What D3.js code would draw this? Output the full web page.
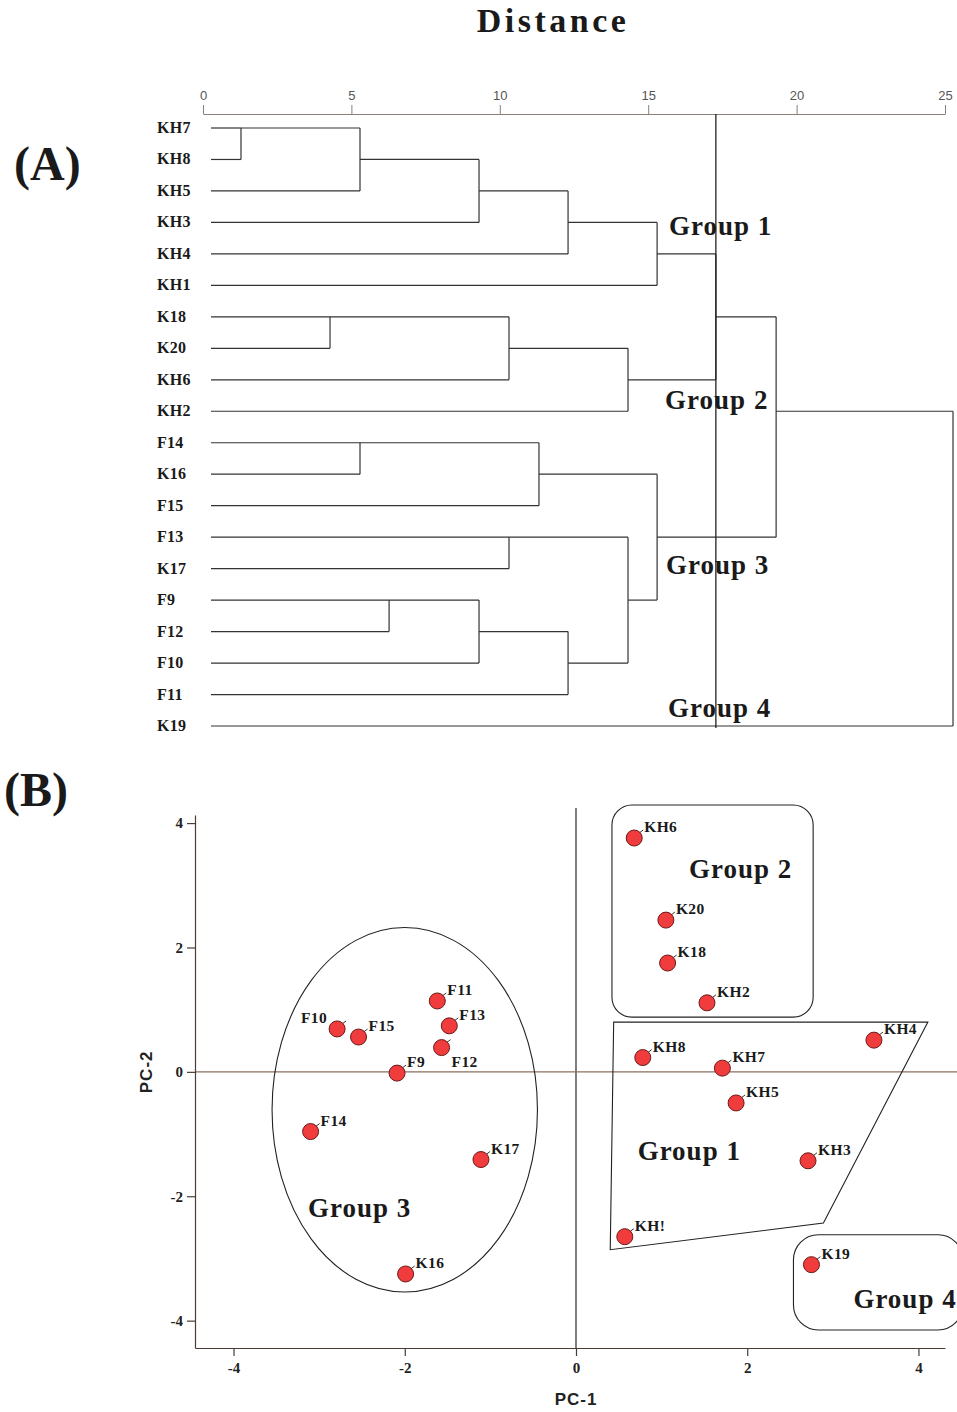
<!DOCTYPE html>
<html>
<head>
<meta charset="utf-8">
<script src="https://cdn.jsdelivr.net/npm/d3@7/dist/d3.min.js"></script>
<style>
body { margin: 0; background: #fff; }
svg { display: block; }
</style>
</head>
<body>
<svg id="mainSvg" width="957" height="1412"></svg>
<script>
// (A) dendrogram: leaf order top to bottom
var leafNames = ["KH7", "KH8", "KH5", "KH3", "KH4", "KH1", "K18", "K20", "KH6", "KH2",
	"F14", "K16", "F15", "F13", "K17", "F9", "F12", "F10", "F11", "K19"];
// [child a, child b, rescaled distance]; "mN" = result of merge N
var merges = [
	["KH7", "KH8", 1.28],
	["m0", "KH5", 5.29],
	["m1", "KH3", 9.30],
	["m2", "KH4", 12.30],
	["m3", "KH1", 15.30],
	["K18", "K20", 4.28],
	["m5", "KH6", 10.31],
	["m6", "KH2", 14.32],
	["m4", "m7", 17.28],
	["F14", "K16", 5.29],
	["m9", "F15", 11.32],
	["F13", "K17", 10.31],
	["F9", "F12", 6.27],
	["m12", "F10", 9.30],
	["m13", "F11", 12.30],
	["m11", "m14", 14.32],
	["m10", "m15", 15.30],
	["m8", "m16", 19.31],
	["m17", "K19", 25.27]
];
var distTicks = [0, 5, 10, 15, 20, 25];
var cutDistance = 17.28;
var groupNames = ["Group 1", "Group 2", "Group 3", "Group 4"];

// (B) PCA scatter
var pointNames = ["KH6", "K20", "K18", "KH2", "KH8", "KH7", "KH4", "KH5", "KH3", "KH!", "K19",
	"F10", "F15", "F9", "F11", "F13", "F12", "F14", "K17", "K16"];
var pc1 = [0.68, 1.05, 1.07, 1.53, 0.78, 1.71, 3.48, 1.87, 2.71, 0.57, 2.75,
	-2.79, -2.54, -2.09, -1.62, -1.48, -1.57, -3.10, -1.11, -1.99];
var pc2 = [3.76, 2.44, 1.75, 1.11, 0.23, 0.06, 0.51, -0.50, -1.43, -2.65, -3.10,
	0.69, 0.56, -0.02, 1.14, 0.74, 0.39, -0.96, -1.41, -3.25];
var pcTicks = [-4, -2, 0, 2, 4];

var serif = "'Liberation Serif', 'Times New Roman', serif";
var sans = "'Liberation Sans', Arial, sans-serif";
var lineCol = "#333";

var mainSvg = d3.select("#mainSvg");

// ---------- (A) ----------
var dx = d3.scaleLinear().domain([0, 25]).range([203, 945]);
var dy = d3.scaleLinear().domain([0, leafNames.length - 1]).range([128, 726]);
var leafStart = dx(0) + 8;

mainSvg.append("text").attr("x", 553).attr("y", 32).attr("text-anchor", "middle")
	.attr("font-family", serif).attr("font-weight", "bold").attr("font-size", "34px").attr("letter-spacing", "3.5px")
	.attr("fill", "#1a1a1a").text("Distance");
mainSvg.append("text").attr("x", 14).attr("y", 180)
	.attr("font-family", serif).attr("font-weight", "bold").attr("font-size", "48px").attr("fill", "#1a1a1a").text("(A)");

var topAxis = mainSvg.append("g").attr("transform", "translate(0,114)")
	.call(d3.axisTop(dx).tickValues(distTicks).tickSize(9).tickSizeOuter(0).tickPadding(5));
topAxis.selectAll("path,line").attr("stroke", "#8a8079");
topAxis.selectAll("text").attr("font-family", sans).attr("font-size", "13px").attr("fill", "#555");

mainSvg.selectAll(".leafLabel").data(leafNames).enter().append("text").attr("class", "leafLabel")
	.attr("x", 157).attr("y", function(d, i) {
		return dy(i) + 5;
	}).attr("font-family", serif).attr("font-weight", "bold").attr("font-size", "16px").attr("letter-spacing", "0.3px")
	.attr("fill", "#1a1a1a")
	.text(function(d) {
		return d;
	});

// work out rows and heights of every node, then draw the elbows
var nodes = {};
leafNames.forEach(function(n, i) {
	nodes[n] = {row: i, h: null};
});
var segs = [];
merges.forEach(function(m, k) {
	var a = nodes[m[0]], b = nodes[m[1]];
	var xm = dx(m[2]);
	[a, b].forEach(function(c) {
		segs.push({x1: c.h === null ? leafStart : dx(c.h), x2: xm, y1: dy(c.row), y2: dy(c.row)});
	});
	segs.push({x1: xm, x2: xm, y1: dy(a.row), y2: dy(b.row)});
	nodes["m" + k] = {row: Math.floor((a.row + b.row) / 2), h: m[2]};
});
mainSvg.selectAll(".seg").data(segs).enter().append("line").attr("class", "seg")
	.attr("x1", function(d) { return d.x1; }).attr("x2", function(d) { return d.x2; })
	.attr("y1", function(d) { return d.y1; }).attr("y2", function(d) { return d.y2; })
	.attr("stroke", lineCol).attr("stroke-width", 1.2);

mainSvg.append("line").attr("x1", dx(cutDistance)).attr("x2", dx(cutDistance)).attr("y1", 114).attr("y2", 728)
	.attr("stroke", "#222").attr("stroke-width", 1.3);

var groupRowsA = [3.4, 8.93, 14.17, 18.72];
var groupDistA = [15.7, 15.57, 15.6, 15.67];
mainSvg.selectAll(".grpA").data(groupNames).enter().append("text").attr("class", "grpA")
	.attr("x", function(d, i) { return dx(groupDistA[i]); })
	.attr("y", function(d, i) { return dy(groupRowsA[i]); })
	.attr("font-family", serif).attr("font-weight", "bold").attr("font-size", "27px").attr("letter-spacing", "1px")
	.attr("fill", "#1a1a1a")
	.text(function(d) { return d; });

// ---------- (B) ----------
mainSvg.append("text").attr("x", 4).attr("y", 806)
	.attr("font-family", serif).attr("font-weight", "bold").attr("font-size", "48px").attr("fill", "#1a1a1a").text("(B)");

var sx = d3.scaleLinear().domain([-4.45, 4.31]).range([195, 945]);
var sy = d3.scaleLinear().domain([-4.44, 4.13]).range([1348, 815]);

// zero lines
mainSvg.append("line").attr("x1", sx(0)).attr("x2", sx(0)).attr("y1", 808).attr("y2", sy.range()[0])
	.attr("stroke", "#2a2a2a").attr("stroke-width", 1.2);
mainSvg.append("line").attr("x1", sx.range()[0]).attr("x2", 957).attr("y1", sy(0)).attr("y2", sy(0))
	.attr("stroke", "#8c6e5e").attr("stroke-width", 1.2);

var plainNum = function(d) { return String(d); };
var xAxis = mainSvg.append("g").attr("transform", "translate(0," + sy.range()[0] + ")")
	.call(d3.axisBottom(sx).tickValues(pcTicks).tickFormat(plainNum).tickSize(8).tickSizeOuter(0).tickPadding(6));
var yAxis = mainSvg.append("g").attr("transform", "translate(" + sx.range()[0] + ",0)")
	.call(d3.axisLeft(sy).tickValues(pcTicks).tickFormat(plainNum).tickSize(8).tickSizeOuter(0).tickPadding(4));
[xAxis, yAxis].forEach(function(ax) {
	ax.selectAll("path,line").attr("stroke", "#4a3c36").attr("stroke-width", 1.2);
	ax.selectAll("text").attr("font-family", serif).attr("font-weight", "bold").attr("font-size", "15px").attr("fill", "#222");
});

mainSvg.append("text").attr("x", sx(0)).attr("y", 1405).attr("text-anchor", "middle")
	.attr("font-family", sans).attr("font-weight", "bold").attr("font-size", "17px").attr("letter-spacing", "1px").attr("fill", "#222").text("PC-1");
mainSvg.append("text").attr("transform", "translate(152," + sy(0) + ") rotate(-90)").attr("text-anchor", "middle")
	.attr("font-family", sans).attr("font-weight", "bold").attr("font-size", "17px").attr("letter-spacing", "1px").attr("fill", "#222").text("PC-2");

// group outlines
var g2 = {x0: 0.42, x1: 2.77, y0: 0.88, y1: 4.29};
var g4 = {x0: 2.54, x1: 4.52, y0: -4.15, y1: -2.62};
[[g2, 20], [g4, 25]].forEach(function(b) {
	mainSvg.append("rect").attr("x", sx(b[0].x0)).attr("y", sy(b[0].y1))
		.attr("width", sx(b[0].x1) - sx(b[0].x0)).attr("height", sy(b[0].y0) - sy(b[0].y1))
		.attr("rx", b[1]).attr("ry", b[1]).attr("fill", "none").attr("stroke", "#222").attr("stroke-width", 1.1);
});
var g1 = [[0.44, 0.80], [4.11, 0.80], [2.89, -2.43], [0.40, -2.86]];
mainSvg.append("polygon").attr("points", g1.map(function(p) {
	return sx(p[0]) + "," + sy(p[1]);
}).join(" ")).attr("fill", "none").attr("stroke", "#222").attr("stroke-width", 1.1);
var g3 = {cx: -2.0, cy: -0.61, rx: 1.55, ry: 2.93};
mainSvg.append("ellipse").attr("cx", sx(g3.cx)).attr("cy", sy(g3.cy))
	.attr("rx", sx(g3.cx + g3.rx) - sx(g3.cx)).attr("ry", sy(g3.cy) - sy(g3.cy + g3.ry))
	.attr("fill", "none").attr("stroke", "#222").attr("stroke-width", 1.1);

var groupPosB = [[0.72, -1.41], [1.32, 3.12], [-3.13, -2.33], [3.24, -3.79]];
mainSvg.selectAll(".grpB").data(groupNames).enter().append("text").attr("class", "grpB")
	.attr("x", function(d, i) { return sx(groupPosB[i][0]); })
	.attr("y", function(d, i) { return sy(groupPosB[i][1]); })
	.attr("font-family", serif).attr("font-weight", "bold").attr("font-size", "27px").attr("letter-spacing", "1px")
	.attr("fill", "#1a1a1a")
	.text(function(d) { return d; });

// points and labels
var pts = pointNames.map(function(n, i) {
	return {name: n, x: pc1[i], y: pc2[i]};
});
var labelSide = {F10: "left", F12: "below"};
mainSvg.selectAll(".lead").data(pts).enter().append("line").attr("class", "lead")
	.attr("x1", function(d) { return sx(d.x) + 5; }).attr("y1", function(d) { return sy(d.y) - 5; })
	.attr("x2", function(d) { return sx(d.x) + 9; }).attr("y2", function(d) { return sy(d.y) - 8; })
	.attr("stroke", "#333").attr("stroke-width", 1);
mainSvg.selectAll(".pt").data(pts).enter().append("circle").attr("class", "pt")
	.attr("cx", function(d) { return sx(d.x); }).attr("cy", function(d) { return sy(d.y); })
	.attr("r", 8).attr("fill", "#f03c3c").attr("stroke", "#6b1a1a").attr("stroke-width", 1);
mainSvg.selectAll(".ptLabel").data(pts).enter().append("text").attr("class", "ptLabel")
	.attr("x", function(d) {
		return sx(d.x) + (labelSide[d.name] == "left" ? -10 : 10);
	}).attr("y", function(d) {
		return sy(d.y) + (labelSide[d.name] == "below" ? 19 : -6);
	}).attr("text-anchor", function(d) {
		return labelSide[d.name] == "left" ? "end" : "start";
	}).attr("font-family", serif).attr("font-weight", "bold").attr("font-size", "15.5px").attr("letter-spacing", "0.4px")
	.attr("fill", "#1a1a1a")
	.text(function(d) { return d.name; });
</script>
</body>
</html>
